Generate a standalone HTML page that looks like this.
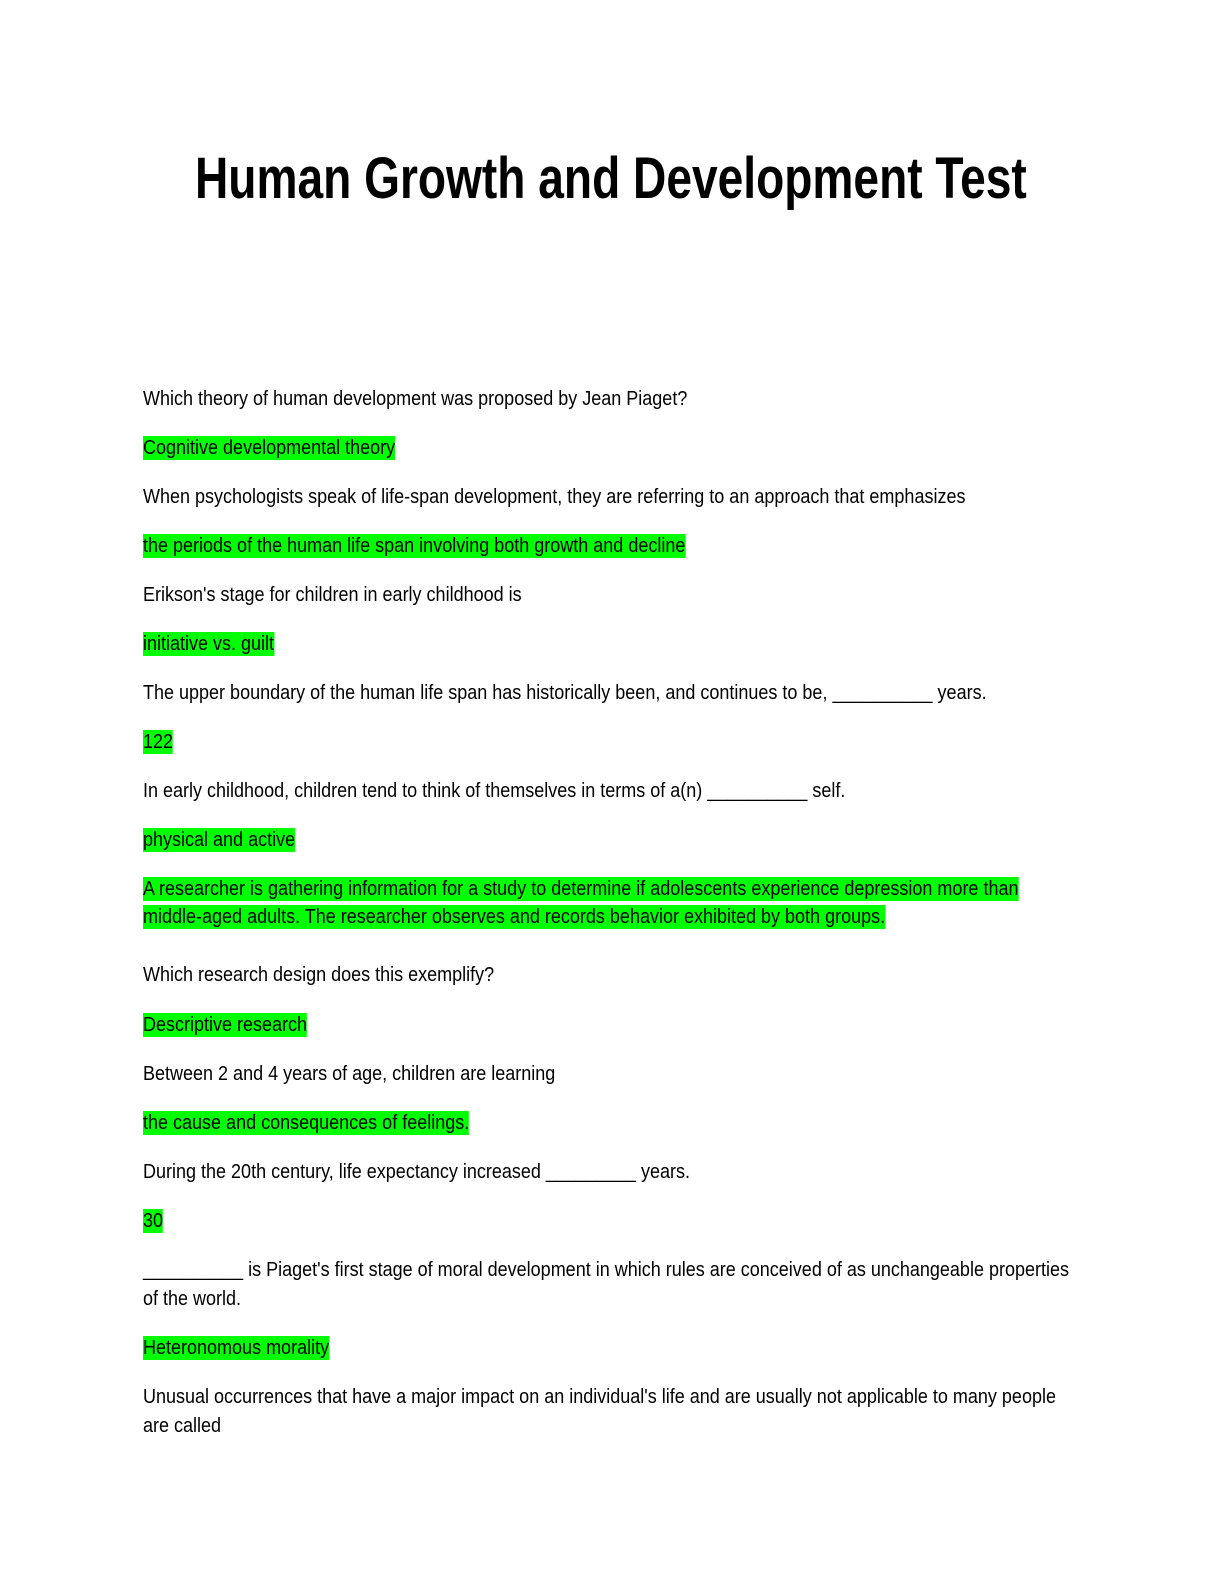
<!DOCTYPE html>
<html><head><meta charset="utf-8"><style>
html,body{margin:0;padding:0;background:#fff;}
body{width:1224px;height:1584px;position:relative;overflow:hidden;font-family:"Liberation Sans",Arial,sans-serif;color:#000;}
.t{position:absolute;left:195px;top:144px;font-size:58px;font-weight:bold;line-height:70px;white-space:nowrap;transform:scaleX(0.795);transform-origin:0 0;}
.l{position:absolute;left:143px;font-size:20px;line-height:24px;white-space:nowrap;transform:scaleX(0.90);transform-origin:0 0;}
.h{background:#00ff00;padding:1px 0;}
</style></head><body>
<div class="t">Human Growth and Development Test</div>
<div class="l" style="top:387px">Which theory of human development was proposed by Jean Piaget?</div>
<div class="l" style="top:436px"><span class="h">Cognitive developmental theory</span></div>
<div class="l" style="top:485px">When psychologists speak of life-span development, they are referring to an approach that emphasizes</div>
<div class="l" style="top:534px"><span class="h">the periods of the human life span involving both growth and decline</span></div>
<div class="l" style="top:583px">Erikson's stage for children in early childhood is</div>
<div class="l" style="top:632px"><span class="h">initiative vs. guilt</span></div>
<div class="l" style="top:681px">The upper boundary of the human life span has historically been, and continues to be, __________ years.</div>
<div class="l" style="top:730px"><span class="h">122</span></div>
<div class="l" style="top:779px">In early childhood, children tend to think of themselves in terms of a(n) __________ self.</div>
<div class="l" style="top:828px"><span class="h">physical and active</span></div>
<div class="l" style="top:877px"><span class="h">A researcher is gathering information for a study to determine if adolescents experience depression more than</span></div>
<div class="l" style="top:905px"><span class="h">middle-aged adults. The researcher observes and records behavior exhibited by both groups.</span></div>
<div class="l" style="top:963px">Which research design does this exemplify?</div>
<div class="l" style="top:1013px"><span class="h">Descriptive research</span></div>
<div class="l" style="top:1062px">Between 2 and 4 years of age, children are learning</div>
<div class="l" style="top:1111px"><span class="h">the cause and consequences of feelings.</span></div>
<div class="l" style="top:1160px">During the 20th century, life expectancy increased _________ years.</div>
<div class="l" style="top:1209px"><span class="h">30</span></div>
<div class="l" style="top:1258px">__________ is Piaget's first stage of moral development in which rules are conceived of as unchangeable properties</div>
<div class="l" style="top:1287px">of the world.</div>
<div class="l" style="top:1336px"><span class="h">Heteronomous morality</span></div>
<div class="l" style="top:1385px">Unusual occurrences that have a major impact on an individual's life and are usually not applicable to many people</div>
<div class="l" style="top:1414px">are called</div>
</body></html>
